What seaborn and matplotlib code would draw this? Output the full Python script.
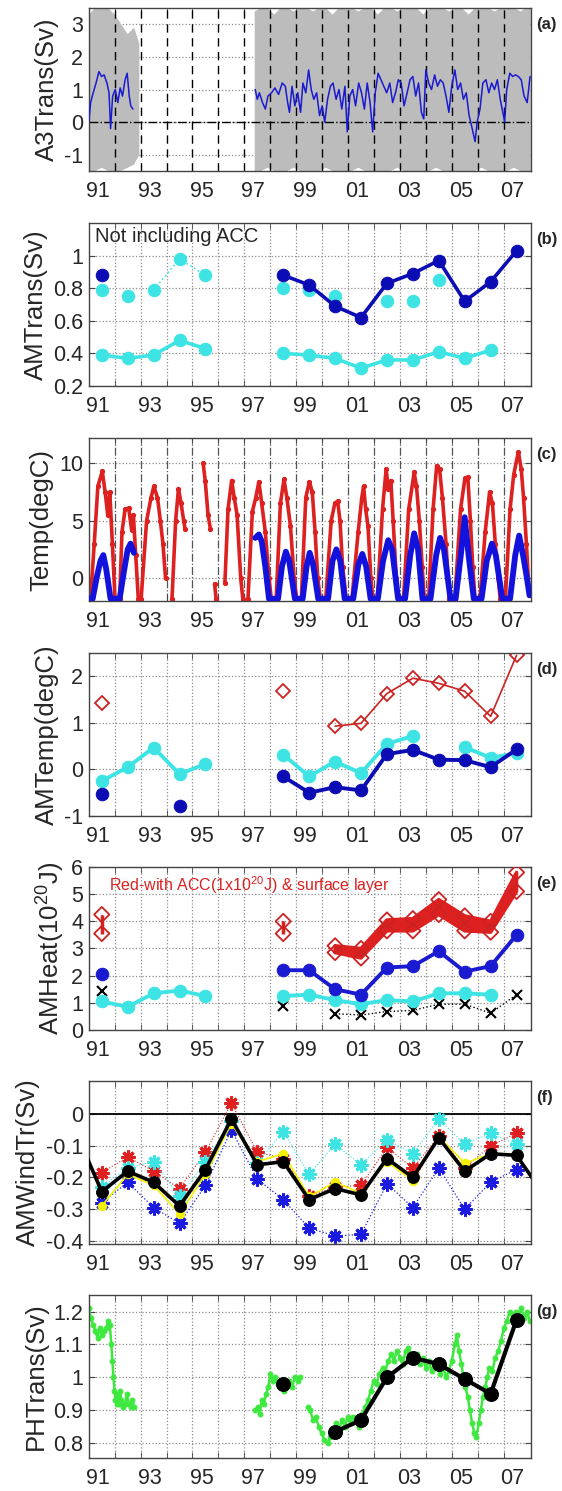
import numpy as np
import pandas as pd
import matplotlib
matplotlib.use("Agg")
import matplotlib.pyplot as plt
import seaborn as sns
from matplotlib.ticker import FixedLocator, FormatStrFormatter

#global style
sns.set_style("white")
plt.rcParams['font.family'] = ['Liberation Sans', 'DejaVu Sans']
plt.rcParams['axes.unicode_minus'] = False
plt.rcParams['mathtext.fontset'] = 'custom'
plt.rcParams['mathtext.rm'] = 'Liberation Sans'

nan = np.nan

#x axis labels
label_years = [1991, 1993, 1995, 1997, 1999, 2001, 2003, 2005, 2007]
year_labels = ["91", "93", "95", "97", "99", "01", "03", "05", "07"]
grid_years = [1991.65, 1992.65, 1993.65, 1994.65, 1995.65, 1996.65, 1997.65, 1998.65,
              1999.65, 2000.65, 2001.65, 2002.65, 2003.65, 2004.65, 2005.65, 2006.65]

#annual means (1991..2007)
yrs = [1991.15, 1992.15, 1993.15, 1994.15, 1995.15, 1996.15, 1997.15, 1998.15, 1999.15,
       2000.15, 2001.15, 2002.15, 2003.15, 2004.15, 2005.15, 2006.15, 2007.15]

#(a) A3 transport: grey daily envelope and blue filtered series
a3_grey_t = [1990.65, 1990.9, 1991.15, 1991.4, 1991.65, 1991.9, 1992.15, 1992.4, 1992.6, nan,
             1997.05, 1997.3, 1997.55, 1997.8, 1998.05, 1998.3, 1998.55, 1998.8, 1999.05, 1999.3,
             1999.55, 1999.8, 2000.05, 2000.3, 2000.55, 2000.8, 2001.05, 2001.3, 2001.55, 2001.8,
             2002.05, 2002.3, 2002.55, 2002.8, 2003.05, 2003.3, 2003.55, 2003.8, 2004.05, 2004.3,
             2004.55, 2004.8, 2005.05, 2005.3, 2005.55, 2005.8, 2006.05, 2006.3, 2006.55, 2006.8,
             2007.05, 2007.3, 2007.55, 2007.7]
a3_grey_hi = [3.3, 3.5, 3.5, 3.5, 3.3, 3.0, 2.7, 2.9, 2.4, nan,
              3.4, 3.5, 3.5, 3.3, 3.5, 3.5, 3.4, 3.5, 3.5, 3.4,
              3.5, 3.5, 3.3, 3.5, 3.5, 3.5, 3.4, 3.5, 3.5, 3.3,
              3.5, 3.5, 3.4, 3.5, 3.5, 3.5, 3.3, 3.5, 3.5, 3.5,
              3.4, 3.5, 3.5, 3.3, 3.5, 3.5, 3.5, 3.4, 3.5, 3.5,
              3.5, 3.4, 3.5, 3.5]
a3_grey_lo = [-1.5, -1.5, -1.4, -1.5, -1.5, -1.5, -1.4, -1.3, -1.0, nan,
              -1.5, -1.5, -1.4, -1.5, -1.5, -1.5, -1.4, -1.5, -1.5, -1.5,
              -1.5, -1.4, -1.5, -1.5, -1.5, -1.5, -1.4, -1.5, -1.5, -1.5,
              -1.5, -1.5, -1.4, -1.5, -1.5, -1.5, -1.5, -1.5, -1.4, -1.5,
              -1.5, -1.5, -1.5, -1.5, -1.5, -1.4, -1.5, -1.5, -1.5, -1.5,
              -1.4, -1.5, -1.5, -1.5]
a3_blue = [(1990.65, 0.0), (1990.72, 0.6), (1990.82, 0.9), (1990.93, 1.2), (1991.04, 1.55),
           (1991.14, 1.4), (1991.24, 1.45), (1991.35, 1.2), (1991.43, 0.9), (1991.49, -0.2),
           (1991.57, 0.8), (1991.67, 1.0), (1991.77, 0.6), (1991.86, 1.05), (1991.95, 0.8),
           (1992.05, 1.3), (1992.13, 1.5), (1992.21, 0.8), (1992.27, 0.5), (1992.35, 0.4),
           (nan, nan),
           (1997.07, 1.0), (1997.15, 0.7), (1997.23, 0.9), (1997.35, 0.6), (1997.46, 0.4),
           (1997.56, 0.8), (1997.70, 0.9), (1997.83, 1.05), (1997.97, 0.85), (1998.11, 1.2),
           (1998.23, 1.1), (1998.32, 0.6), (1998.39, 0.3), (1998.49, 1.1), (1998.60, 0.5),
           (1998.71, 0.9), (1998.82, 0.3), (1998.91, 1.2), (1999.02, 0.9), (1999.13, 1.6),
           (1999.23, 1.0), (1999.33, 0.7), (1999.44, 0.9), (1999.55, 0.2), (1999.65, 0.5),
           (1999.75, 0.0), (1999.86, 0.7), (1999.97, 1.1), (2000.07, 1.2), (2000.19, 0.7),
           (2000.30, 1.0), (2000.41, 0.4), (2000.53, 1.1), (2000.62, -0.3), (2000.72, 0.8),
           (2000.83, 1.0), (2000.94, 0.5), (2001.06, 1.2), (2001.17, 0.9), (2001.28, 0.4),
           (2001.39, 1.2), (2001.50, 0.6), (2001.60, -0.3), (2001.70, 0.9), (2001.81, 1.5),
           (2001.92, 1.3), (2002.03, 1.1), (2002.14, 0.9), (2002.26, 1.2), (2002.37, 0.6),
           (2002.48, 0.9), (2002.59, 1.3), (2002.70, 1.2), (2002.81, 0.5), (2002.93, 0.9),
           (2003.04, 1.3), (2003.15, 1.4), (2003.26, 0.8), (2003.37, 1.2), (2003.48, 0.3),
           (2003.57, 0.1), (2003.65, 1.6), (2003.76, 1.2), (2003.87, 1.0), (2003.99, 1.45),
           (2004.10, 1.1), (2004.21, 1.3), (2004.32, 1.2), (2004.43, 0.8), (2004.54, 0.3),
           (2004.65, 1.1), (2004.77, 1.6), (2004.88, 1.0), (2004.99, 1.2), (2005.10, 0.7),
           (2005.21, 0.9), (2005.32, 0.2), (2005.44, -0.2), (2005.55, -0.6), (2005.63, 0.0),
           (2005.74, 0.4), (2005.85, 1.2), (2005.97, 1.3), (2006.08, 0.9), (2006.19, 1.2),
           (2006.30, 1.0), (2006.41, 1.3), (2006.52, 0.7), (2006.62, 0.3), (2006.69, 0.0),
           (2006.77, 1.0), (2006.89, 1.5), (2007.00, 1.4), (2007.11, 1.45), (2007.22, 1.4),
           (2007.33, 1.3), (2007.44, 0.8), (2007.56, 0.6), (2007.67, 1.4)]

#(b) annual mean transport
amt_blue = [0.88, nan, nan, nan, nan, nan, nan, 0.88, 0.82, 0.69, 0.62, 0.83, 0.89, 0.97, 0.72, 0.84, 1.03]
amt_cyan_hi = [0.79, 0.75, 0.79, 0.98, 0.88, nan, nan, 0.80, 0.79, 0.75, nan, 0.72, 0.72, 0.85, nan, nan, nan]
amt_cyan_lo = [0.39, 0.37, 0.39, 0.48, 0.43, nan, nan, 0.40, 0.39, 0.37, 0.31, 0.36, 0.36, 0.41, 0.37, 0.42, nan]

#(c) temperature records (upper red, lower blue)
temp_red = [(1990.72, -1.8), (1990.86, 3.0), (1991.0, 8.0), (1991.17, 9.3), (1991.28, 7.5),
            (1991.38, 5.5), (1991.46, 7.5), (1991.56, 3.0), (1991.66, -1.8), (1991.84, -1.8),
            (1991.93, 4.0), (1992.05, 6.0), (1992.19, 6.1), (1992.3, 4.2), (1992.37, 5.5),
            (1992.46, 2.0), (1992.56, -1.8), (nan, nan),
            (1992.67, -1.8), (1992.88, 5.0), (1993.05, 7.0), (1993.16, 8.0), (1993.3, 7.0),
            (1993.41, 5.0), (1993.51, 3.0), (1993.61, 0.0), (nan, nan),
            (1993.86, -1.8), (1994.0, 5.0), (1994.11, 7.8), (1994.21, 6.5), (1994.31, 5.0),
            (1994.36, 4.3), (nan, nan),
            (1995.06, 10.0), (1995.14, 8.5), (1995.25, 5.5), (1995.34, 4.3), (nan, nan),
            (1995.5, -0.5), (1995.56, -1.8), (nan, nan),
            (1995.9, -0.4), (1996.02, 6.0), (1996.16, 8.5), (1996.26, 7.0), (1996.37, 5.5),
            (1996.51, 0.0), (1996.59, -1.8), (nan, nan),
            (1996.79, -1.8), (1996.96, 5.8), (1997.09, 7.0), (1997.21, 8.4), (1997.32, 6.5),
            (1997.46, 4.0), (1997.6, 0.0), (1997.69, -1.8), (1997.88, -1.8), (1998.04, 6.5),
            (1998.18, 8.6), (1998.29, 7.0), (1998.43, 4.5), (1998.57, 0.0), (1998.67, -1.8),
            (1998.85, -1.8), (1999.02, 7.0), (1999.16, 8.4), (1999.27, 7.5), (1999.38, 4.0),
            (1999.48, 0.0), (1999.58, -1.8), (1999.79, -1.8), (2000.0, 5.0), (2000.14, 6.5),
            (2000.25, 6.7), (2000.34, 5.0), (2000.44, 1.0), (2000.58, -1.8), (2000.8, -1.8),
            (2001.04, 4.0), (2001.18, 7.0), (2001.25, 8.0), (2001.33, 6.0), (2001.42, 4.5),
            (2001.53, 0.0), (2001.61, -1.8), (2001.78, -1.8), (2001.98, 6.0), (2002.12, 9.5),
            (2002.2, 7.8), (2002.3, 8.5), (2002.39, 5.0), (2002.51, 0.0), (2002.6, -1.8),
            (2002.79, -1.8), (2002.99, 6.0), (2003.2, 9.2), (2003.29, 8.0), (2003.4, 5.0),
            (2003.51, 1.0), (2003.59, -1.8), (2003.76, -1.8), (2003.93, 6.0), (2004.07, 9.8),
            (2004.18, 9.5), (2004.29, 7.0), (2004.43, 3.0), (2004.56, -1.8), (2004.77, -1.8),
            (2004.99, 6.0), (2005.16, 8.7), (2005.27, 8.8), (2005.37, 5.0), (2005.46, 1.0),
            (2005.55, -1.8), (2005.74, -1.8), (2005.94, 4.0), (2006.11, 7.5), (2006.22, 6.5),
            (2006.33, 3.0), (2006.44, 0.0), (2006.52, -1.8), (2006.72, -1.8), (2006.9, 6.0),
            (2007.04, 9.0), (2007.22, 11.0), (2007.33, 9.5), (2007.42, 7.0), (2007.53, 3.0),
            (2007.64, -1.5)]
temp_blue = [(1990.65, -1.8), (1990.8, -1.8), (1990.95, 0.0), (1991.1, 1.5), (1991.21, 2.0),
             (1991.32, 0.8), (1991.49, -1.8), (1991.84, -1.8), (1992.0, 0.5), (1992.15, 2.5),
             (1992.26, 3.0), (1992.39, 2.2), (nan, nan),
             (1997.07, 3.5), (1997.21, 3.8), (1997.32, 3.2), (1997.46, 1.0), (1997.6, -1.8),
             (1997.95, -1.8), (1998.1, 1.0), (1998.25, 2.3), (1998.38, 1.5), (1998.6, -1.8),
             (1998.9, -1.8), (1999.05, 1.0), (1999.17, 2.2), (1999.3, 1.2), (1999.5, -1.8),
             (1999.88, -1.8), (2000.05, 1.5), (2000.2, 2.5), (2000.35, 1.5), (2000.52, -1.8),
             (2000.85, -1.8), (2001.05, 1.2), (2001.2, 2.1), (2001.35, 1.0), (2001.52, -1.8),
             (2001.8, -1.8), (2002.0, 1.5), (2002.2, 3.3), (2002.35, 2.5), (2002.58, -1.8),
             (2002.85, -1.8), (2003.05, 2.0), (2003.2, 3.9), (2003.35, 2.5), (2003.52, -1.8),
             (2003.83, -1.8), (2004.05, 2.0), (2004.2, 3.5), (2004.35, 2.5), (2004.6, -1.8),
             (2004.8, -1.8), (2005.0, 2.0), (2005.15, 5.3), (2005.3, 2.0), (2005.5, -1.8),
             (2005.8, -1.8), (2006.0, 1.5), (2006.2, 3.0), (2006.35, 2.0), (2006.6, -1.8),
             (2006.9, -1.8), (2007.1, 2.0), (2007.25, 3.7), (2007.4, 2.0), (2007.55, 0.0),
             (2007.65, -1.5)]

#(d) annual mean temperature
amtemp_red = [1.43, nan, nan, nan, nan, nan, nan, 1.68, nan, 0.93, 0.99, 1.63, 1.96, 1.85, 1.68, 1.14, 2.45]
amtemp_cyan = [-0.25, 0.05, 0.47, -0.10, 0.12, nan, nan, 0.32, -0.15, 0.17, -0.08, 0.55, 0.72, nan, 0.48, 0.25, 0.35]
amtemp_blue = [-0.52, nan, nan, -0.78, nan, nan, nan, -0.15, -0.50, -0.38, -0.45, 0.33, 0.42, 0.21, 0.20, 0.05, 0.43]

#(e) annual mean heat content
heat_red_hi = [4.25, nan, nan, nan, nan, nan, nan, 4.0, nan, 3.1, 3.0, 4.05, 4.1, 4.8, 4.2, 4.0, 5.8]
heat_red_lo = [3.55, nan, nan, nan, nan, nan, nan, 3.55, nan, 2.85, 2.65, 3.65, 3.65, 4.25, 3.65, 3.6, 5.1]
heat_blue = [2.05, nan, nan, nan, nan, nan, nan, 2.2, 2.2, 1.5, 1.3, 2.3, 2.35, 2.9, 2.15, 2.35, 3.5]
heat_cyan = [1.05, 0.85, 1.35, 1.45, 1.25, nan, nan, 1.25, 1.3, 1.1, 0.95, 1.1, 1.05, 1.35, 1.35, 1.3, nan]
heat_black = [1.45, nan, nan, nan, nan, nan, nan, 0.9, nan, 0.6, 0.55, 0.68, 0.72, 0.95, 0.95, 0.62, 1.3]

#(f) wind driven transport
wind_t = [1990.15] + yrs + [2008.25]
wind_black = [-0.055, -0.245, -0.18, -0.215, -0.29, -0.175, -0.015, -0.16, -0.15, -0.27,
              -0.235, -0.255, -0.14, -0.2, -0.075, -0.18, -0.125, -0.13, -0.26]
wind_yellow = [-0.29, -0.19, -0.225, -0.315, -0.19, -0.03, -0.15, -0.125, -0.26, -0.215,
               -0.25, -0.15, -0.21, -0.07, -0.155, -0.125, -0.125]
wind_red = [-0.185, -0.135, -0.18, -0.235, -0.12, 0.035, -0.12, -0.14, -0.26, -0.23,
            -0.225, -0.105, -0.17, -0.07, -0.17, -0.1, -0.06]
wind_cyan = [-0.23, -0.17, -0.15, -0.26, -0.15, -0.02, -0.155, -0.055, -0.19, -0.095,
             -0.16, -0.08, -0.125, -0.015, -0.095, -0.06, -0.095]
wind_blue = [-0.28, -0.215, -0.295, -0.345, -0.225, -0.05, -0.205, -0.27, -0.36, -0.385,
             -0.38, -0.22, -0.295, -0.17, -0.3, -0.215, -0.175]

#(g) PH transport
ph_black = [nan, nan, nan, nan, nan, nan, nan, 0.98, nan, 0.835, 0.87, 1.0, 1.06, 1.04, 0.995, 0.95, 1.175]
ph_green = [(1990.65, 1.21), (1990.73, 1.18), (1990.82, 1.16), (1990.9, 1.14), (1990.99, 1.12),
            (1991.07, 1.15), (1991.15, 1.13), (1991.24, 1.14), (1991.32, 1.15), (1991.4, 1.17),
            (1991.46, 1.16), (1991.52, 1.10), (1991.56, 1.05), (1991.6, 1.0), (1991.64, 0.96),
            (1991.68, 0.93), (1991.73, 0.92), (1991.77, 0.95), (1991.81, 0.92), (1991.85, 0.96),
            (1991.91, 0.93), (1991.98, 0.91), (1992.05, 0.92), (1992.12, 0.95), (1992.19, 0.92),
            (1992.26, 0.91), (1992.33, 0.93), (1992.4, 0.91), (nan, nan),
            (1997.07, 0.90), (1997.16, 0.91), (1997.25, 0.89), (1997.32, 0.93), (1997.4, 0.92),
            (1997.49, 0.95), (1997.57, 0.97), (1997.65, 1.01), (1997.74, 0.99), (1997.83, 1.0),
            (1997.93, 0.98), (1998.04, 0.97), (1998.18, 0.96), (1998.29, 0.98), (1998.39, 0.99),
            (1998.49, 0.97), (1998.6, 1.0), (1998.71, 0.99), (1998.81, 1.0), (nan, nan),
            (1999.09, 0.91), (1999.19, 0.90), (1999.3, 0.87), (1999.41, 0.88), (1999.52, 0.85),
            (1999.63, 0.83), (1999.74, 0.81), (1999.86, 0.80), (1999.97, 0.82), (2000.08, 0.84),
            (2000.19, 0.86), (2000.3, 0.84), (2000.41, 0.87), (2000.53, 0.85), (2000.64, 0.88),
            (2000.75, 0.86), (2000.86, 0.88), (2000.97, 0.87), (2001.08, 0.85), (2001.2, 0.89),
            (2001.31, 0.91), (2001.42, 0.93), (2001.53, 0.96), (2001.64, 0.99), (2001.75, 0.98),
            (2001.86, 1.01), (2001.98, 1.03), (2002.09, 1.02), (2002.2, 1.05), (2002.31, 1.07),
            (2002.42, 1.05), (2002.53, 1.08), (2002.65, 1.06), (2002.76, 1.04), (2002.87, 1.08),
            (2002.98, 1.09), (2003.09, 1.06), (2003.2, 1.05), (2003.32, 1.07), (2003.43, 1.04),
            (2003.54, 1.06), (2003.65, 1.03), (2003.76, 1.05), (2003.87, 1.02), (2003.98, 1.04),
            (2004.1, 1.03), (2004.21, 1.01), (2004.32, 1.03), (2004.43, 1.0), (2004.54, 1.02),
            (2004.65, 1.05), (2004.77, 1.10), (2004.85, 1.13), (2004.93, 1.08), (2005.02, 1.04),
            (2005.1, 1.0), (2005.18, 0.97), (2005.27, 0.94), (2005.35, 0.90), (2005.44, 0.86),
            (2005.52, 0.83), (2005.6, 0.82), (2005.69, 0.86), (2005.77, 0.90), (2005.85, 0.94),
            (2005.94, 0.97), (2006.02, 1.0), (2006.1, 1.03), (2006.22, 1.02), (2006.33, 1.06),
            (2006.44, 1.08), (2006.55, 1.11), (2006.66, 1.15), (2006.77, 1.17), (2006.89, 1.20),
            (2007.0, 1.18), (2007.11, 1.20), (2007.22, 1.19), (2007.33, 1.21), (2007.44, 1.18),
            (2007.55, 1.20), (2007.67, 1.17)]

#colours
RED = "#dd2020"
BLUE = "#0c0cb4"
BLUE_A = "#1a1ad0"
CYAN = "#3ee4e4"
GREEN = "#3ee83e"
GREY = "#bcbcbc"
ASTER = (8, 2, 0)  #matlab-like asterisk marker


def seg_line(ax, x, y, **kw):
    #draw a line that breaks at NaN gaps
    df = pd.DataFrame({"x": x, "y": y})
    df["seg"] = df["y"].isna().cumsum()
    df = df.dropna()
    kw.setdefault("markeredgecolor", kw.get("color"))
    sns.lineplot(data=df, x="x", y="y", units="seg", estimator=None,
                 sort=False, ax=ax, legend=False, **kw)


def style_axes(ax, ylim, yticks, ylabel, tag, vgrid=True):
    ax.set_xlim(1990.65, 2007.7)
    ax.set_ylim(*ylim)
    ax.set_xticks(label_years)
    ax.set_xticklabels(year_labels)
    ax.xaxis.set_minor_locator(FixedLocator(grid_years))
    ax.set_yticks(yticks)
    ax.yaxis.set_major_formatter(FormatStrFormatter("%g"))
    ax.tick_params(axis="x", which="major", length=0, labelsize=15.5, pad=7)
    ax.tick_params(axis="x", which="minor", direction="in", length=4,
                   top=True, bottom=True, color="#444444")
    ax.tick_params(axis="y", which="major", direction="in", length=4,
                   left=True, right=True, labelsize=15.5, pad=4, color="#444444")
    ax.grid(True, axis="y", which="major", linestyle=":", color="#8c8c8c", lw=0.9)
    if vgrid:
        ax.grid(True, axis="x", which="minor", linestyle=":", color="#8c8c8c", lw=0.9)
    ax.set_axisbelow(True)
    ax.set_xlabel("")
    ax.set_ylabel(ylabel, fontsize=18.5, labelpad=4)
    ax.text(1.012, 0.9, tag, transform=ax.transAxes, fontsize=12,
            fontweight="bold", va="center", ha="left")
    for sp in ax.spines.values():
        sp.set_color("#444444")
        sp.set_linewidth(1.0)


fig = plt.figure(figsize=(5.62, 14.91), dpi=100)
left, width, height = 0.158, 0.7865, 0.1093
bottoms = [0.8853, 0.7411, 0.5969, 0.4527, 0.3092, 0.1657, 0.0221]
axs = [fig.add_axes([left, b, width, height]) for b in bottoms]

#(a)
ax = axs[0]
ax.fill_between(a3_grey_t, a3_grey_lo, a3_grey_hi, color=GREY, lw=0, zorder=1)
ax.vlines(grid_years, -1.5, 3.5, colors="k", linestyles=(0, (6, 4)), lw=1.0, zorder=2)
ax.axhline(0, color="k", linestyle="-.", lw=1.0, zorder=2)
a3 = pd.DataFrame(a3_blue, columns=["t", "v"])
seg_line(ax, a3["t"], a3["v"], color=BLUE_A, lw=1.1, zorder=3)
style_axes(ax, (-1.5, 3.5), [-1, 0, 1, 2, 3], "A3Trans(Sv)", "(a)", vgrid=False)

#(b)
ax = axs[1]
seg_line(ax, yrs, amt_cyan_lo, color=CYAN, lw=2.6, marker="o", markersize=9)
sns.scatterplot(x=yrs, y=amt_cyan_hi, color=CYAN, s=80, edgecolor=CYAN, ax=ax, zorder=3)
seg_line(ax, yrs[2:5], amt_cyan_hi[2:5], color=CYAN, lw=1.2, linestyle=":")
seg_line(ax, yrs, amt_blue, color=BLUE, lw=2.6, marker="o", markersize=9, zorder=4)
ax.text(0.015, 0.975, "Not including ACC", transform=ax.transAxes, fontsize=14.5,
        va="top", ha="left")
style_axes(ax, (0.2, 1.2), [0.2, 0.4, 0.6, 0.8, 1.0], "AMTrans(Sv)", "(b)")

#(c)
ax = axs[2]
tr = pd.DataFrame(temp_red, columns=["t", "v"])
tb = pd.DataFrame(temp_blue, columns=["t", "v"])
seg_line(ax, tr["t"], tr["v"], color=RED, lw=2.6, marker="o", markersize=3)
seg_line(ax, tb["t"], tb["v"], color="#1212dc", lw=4.2, zorder=3)
ax.grid(True, axis="x", which="minor", linestyle="-.", color="#555555", lw=0.9)
style_axes(ax, (-2.0, 12.2), [0, 5, 10], "Temp(degC)", "(c)", vgrid=False)

#(d)
ax = axs[3]
seg_line(ax, yrs, amtemp_red, color="#cc2222", lw=1.2, marker="D", markersize=7.5,
         markerfacecolor="none", markeredgewidth=1.3)
seg_line(ax, yrs, amtemp_cyan, color=CYAN, lw=2.8, marker="o", markersize=9)
seg_line(ax, yrs, amtemp_blue, color=BLUE, lw=2.8, marker="o", markersize=9, zorder=4)
style_axes(ax, (-1.0, 2.5), [-1, 0, 1, 2], "AMTemp(degC)", "(d)")

#(e)
ax = axs[4]
ax.fill_between(yrs, heat_red_lo, heat_red_hi, color=RED, lw=2.5, edgecolor=RED, zorder=2)
ax.vlines(yrs, heat_red_lo, heat_red_hi, colors=RED, lw=1.2, zorder=2)
for series in (heat_red_hi, heat_red_lo):
    sns.scatterplot(x=yrs, y=series, marker="D", s=60, facecolor="none",
                    edgecolor="#cc2222", linewidth=1.3, ax=ax, zorder=3)
seg_line(ax, yrs, heat_black, color="k", lw=1.0, linestyle=":", marker="x",
         markersize=7, markeredgewidth=1.5)
seg_line(ax, yrs, heat_cyan, color=CYAN, lw=2.8, marker="o", markersize=9)
seg_line(ax, yrs, heat_blue, color=BLUE_A, lw=2.8, marker="o", markersize=9, zorder=4)
ax.text(0.045, 0.955, "Red-with ACC(1x10$^{20}$J) & surface layer", transform=ax.transAxes,
        fontsize=11.5, color=RED, va="top", ha="left")
style_axes(ax, (0, 6), [0, 1, 2, 3, 4, 5, 6], "AMHeat(10$^{20}$J)", "(e)")

#(f)
ax = axs[5]
ax.axhline(0, color="k", lw=1.3, zorder=2)
seg_line(ax, yrs, wind_blue, color="#1a1ae0", lw=0.9, linestyle=":", marker=ASTER,
         markersize=10, markeredgewidth=2.2)
seg_line(ax, yrs, wind_red, color="#e02020", lw=0.8, linestyle=":", marker=ASTER,
         markersize=10, markeredgewidth=2.2)
seg_line(ax, yrs, wind_cyan, color=CYAN, lw=0.8, linestyle=":", marker=ASTER,
         markersize=10, markeredgewidth=2.2)
seg_line(ax, yrs, wind_yellow, color="#f2f200", lw=1.2, marker="o", markersize=6)
seg_line(ax, wind_t, wind_black, color="k", lw=2.6, marker="o", markersize=8.5, zorder=4)
style_axes(ax, (-0.41, 0.105), [-0.4, -0.3, -0.2, -0.1, 0], "AMWindTr(Sv)", "(f)")

#(g)
ax = axs[6]
pg = pd.DataFrame(ph_green, columns=["t", "v"])
seg_line(ax, pg["t"], pg["v"], color=GREEN, lw=1.8, marker="o", markersize=3.5)
seg_line(ax, yrs, ph_black, color="k", lw=3.0, marker="o", markersize=10, zorder=4)
style_axes(ax, (0.755, 1.25), [0.8, 0.9, 1.0, 1.1, 1.2], "PHTrans(Sv)", "(g)")

fig.savefig("out.png", dpi=100)
